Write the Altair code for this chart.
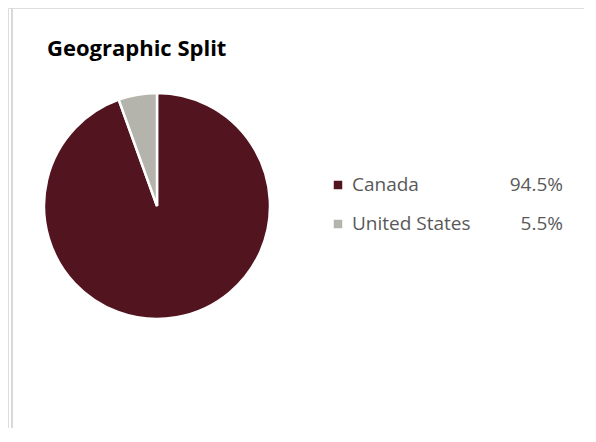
import altair as alt
import pandas as pd

title_text = ["Geographic Split"]
categories = ["Canada", "United States"]
shares = [94.5, 5.5]
share_labels = ["94.5%", "5.5%"]
colors = ["#521520", "#B4B4AC"]

df = pd.DataFrame({"category": categories, "share": shares, "label": share_labels,
                   "ord": list(range(len(categories)))})
title_df = pd.DataFrame({"t": title_text})

color_scale = alt.Scale(domain=categories, range=colors)
y_leg = alt.Scale(type="point", domain=categories, range=[177, 216], padding=0)

frame_top = alt.Chart(title_df).mark_rule(color="#D9D9D9", strokeWidth=2).encode(
    x=alt.value(4), x2=alt.value(600), y=alt.value(-1))
frame_left = alt.Chart(title_df).mark_rule(color="#D9D9D9", strokeWidth=2).encode(
    x=alt.value(4), y=alt.value(-1), y2=alt.value(450))

title = alt.Chart(title_df).mark_text(
    font="Open Sans", fontSize=22, fontWeight="bold", color="#000000",
    align="left", baseline="alphabetic").encode(
    text="t:N", x=alt.value(39), y=alt.value(48))

pie = alt.Chart(df).mark_arc(radius=113, stroke="white", strokeWidth=2.5).encode(
    theta=alt.Theta("share:Q", stack=True),
    order=alt.Order("ord:Q"),
    color=alt.Color("category:N", scale=color_scale, legend=None),
    x=alt.value(149), y=alt.value(198))

squares = alt.Chart(df).mark_square(size=72, opacity=1).encode(
    x=alt.value(330),
    y=alt.Y("category:N", scale=y_leg, axis=None),
    color=alt.Color("category:N", scale=color_scale, legend=None))

names = alt.Chart(df).mark_text(font="Open Sans", fontSize=19, color="#595959",
                                align="left", baseline="middle").encode(
    x=alt.value(344),
    y=alt.Y("category:N", scale=y_leg, axis=None),
    text="category:N")

pcts = alt.Chart(df).mark_text(font="Open Sans", fontSize=19, color="#595959",
                               align="right", baseline="middle").encode(
    x=alt.value(555),
    y=alt.Y("category:N", scale=y_leg, axis=None),
    text="label:N")

chart = alt.layer(frame_top, frame_left, title, pie, squares, names, pcts).properties(
    width=576, height=420, padding=0, autosize=alt.AutoSizeParams(type="none")
).configure_view(stroke=None).configure(background="white")

chart.save("out.html", embed_options={"renderer": "svg", "actions": False})
